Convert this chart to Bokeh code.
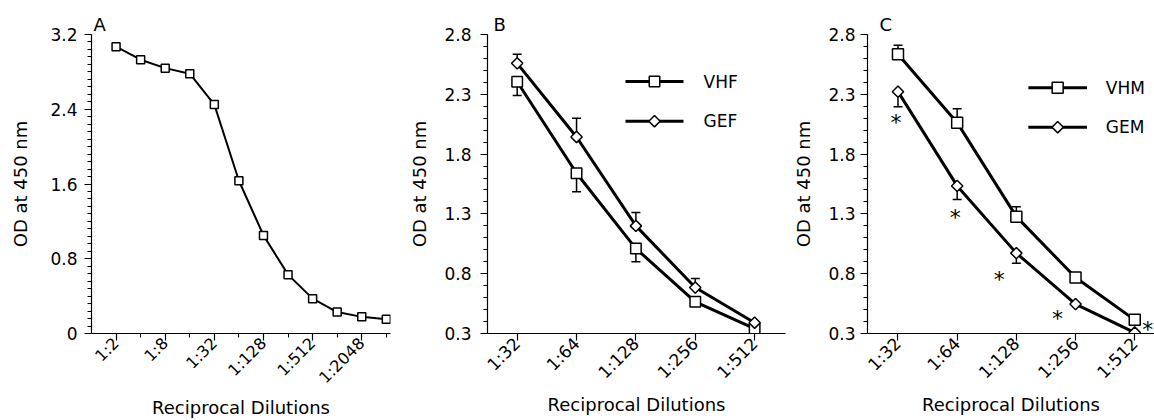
import math
from bokeh.plotting import figure
from bokeh.models import Range1d, FixedTicker, CustomJSTickFormatter, LinearScale
from bokeh.layouts import row
from bokeh.embed import file_html
from bokeh.resources import INLINE
from bokeh.core.properties import value

FONT = "DejaVu Sans"

# ---------------- data ----------------
A_DILUTIONS = [2, 4, 8, 16, 32, 64, 128, 256, 512, 1024, 2048, 4096]
A_OD = [3.07, 2.93, 2.84, 2.78, 2.45, 1.635, 1.05, 0.63, 0.373, 0.23, 0.178, 0.153]
A_XTICKS = [2, 8, 32, 128, 512, 2048]
A_XMINOR = [4, 16, 64, 256, 1024, 4096]
A_YTICKS = [0, 0.8, 1.6, 2.4, 3.2]

BC_DILUTIONS = [32, 64, 128, 256, 512]
BC_YTICKS = [0.3, 0.8, 1.3, 1.8, 2.3, 2.8]

B_VHF = [2.405, 1.64, 1.01, 0.565, 0.34]
B_VHF_ERR = [0.115, 0.154, 0.11, 0.02, 0.0]   # drawn downward
B_GEF = [2.559, 1.943, 1.20, 0.684, 0.39]
B_GEF_ERR = [0.075, 0.157, 0.111, 0.076, 0.0]  # drawn upward

C_VHM = [2.634, 2.063, 1.277, 0.768, 0.414]
C_VHM_ERR = [0.076, 0.117, 0.083, 0.0, 0.0]    # drawn upward
C_GEM = [2.322, 1.534, 0.972, 0.546, 0.308]
C_GEM_ERR = [0.126, 0.114, 0.084, 0.0, 0.0]    # drawn downward
C_STAR_OD = [2.105, 1.308, 0.796, 0.47, 0.373]

B_LEGEND = ["VHF", "GEF"]
C_LEGEND = ["VHM", "GEM"]

X_LABEL = "Reciprocal Dilutions"
Y_LABEL = "OD at 450 nm"

# ---------------- styling helpers ----------------
STAR_DX = [-2, -2, -17, -18, 13]   # screen offsets of significance marks
FRAME_TOP = 34
FIG_H = 420


def make_fig(width, left, right, x_range, y_range, title):
    return figure(width=width, height=FIG_H, x_axis_type="log", x_range=x_range, y_range=y_range,
                  output_backend="svg", toolbar_location=None,
                  min_border_left=left, min_border_right=right,
                  min_border_top=FRAME_TOP, min_border_bottom=87, title=title)


def style(p, title_offset, y_label_standoff, y_major_standoff, x_label_standoff, x_tick_size):
    p.grid.visible = False
    p.outline_line_color = None
    p.background_fill_color = "white"
    p.border_fill_color = "white"
    p.title.text_font = FONT
    p.title.text_font_size = "18px"
    p.title.text_font_style = "normal"
    p.title.text_color = "black"
    p.title.align = "left"
    p.title.offset = title_offset
    p.title.standoff = 0
    xa = p.xaxis[0]
    ya = p.yaxis[0]
    for ax in (xa, ya):
        ax.axis_line_color = "black"
        ax.axis_line_width = 1.2
        ax.major_tick_line_color = "black"
        ax.minor_tick_line_color = "black"
        ax.major_tick_line_width = 1.2
        ax.minor_tick_line_width = 1
        ax.major_tick_in = 0
        ax.major_tick_out = 7
        ax.minor_tick_in = 0
        ax.minor_tick_out = 4
        ax.major_label_text_font = FONT
        ax.major_label_text_color = "black"
        ax.axis_label_text_font = FONT
        ax.axis_label_text_font_style = "normal"
        ax.axis_label_text_font_size = "18px"
        ax.axis_label_text_color = "black"
    xa.axis_label = X_LABEL
    ya.axis_label = Y_LABEL
    xa.major_label_orientation = math.pi / 4
    xa.major_label_text_font_size = x_tick_size
    ya.major_label_text_font_size = "17px"
    xa.major_label_standoff = 0
    xa.axis_label_standoff = x_label_standoff
    ya.major_label_standoff = y_major_standoff
    ya.axis_label_standoff = y_label_standoff
    xa.formatter = CustomJSTickFormatter(code="return '1:' + Math.round(tick);")
    ya.formatter = CustomJSTickFormatter(code="return Math.abs(tick) < 1e-9 ? '0' : tick.toFixed(1);")


def err_bars(p, xs, ys, errs, sign, cap=9):
    ends = [y + sign * e for y, e in zip(ys, errs)]
    p.segment(x0=xs, y0=ys, x1=xs, y1=ends, line_color="black", line_width=1.5)
    p.scatter(x=xs, y=ends, marker="dash", size=cap, line_color="black", line_width=1.5)


def legend(p, frame_w, frame_h, labels, x0, x1, label_x, rows, sizes, angles):
    # key drawn in pixel coordinates inside the frame (y measured from the frame top)
    p.extra_x_ranges = {"px": Range1d(0, frame_w)}
    p.extra_y_ranges = {"py": Range1d(frame_h, 0)}
    p.extra_x_scales = {"px": LinearScale()}
    p.extra_y_scales = {"py": LinearScale()}
    kw = dict(x_range_name="px", y_range_name="py")
    for lab, yy, sz, ang in zip(labels, rows, sizes, angles):
        p.segment(x0=[x0], y0=[yy], x1=[x1], y1=[yy], line_color="black", line_width=3, **kw)
        p.scatter(x=[(x0 + x1) / 2], y=[yy], marker="square", size=sz, angle=ang,
                  fill_color="white", line_color="black", line_width=1.5, **kw)
    p.text(x=[label_x] * len(labels), y=rows, text=labels, text_font=value(FONT),
           text_font_size="17px", text_align="left", text_baseline="middle",
           text_color="black", **kw)


# ---------------- panel A ----------------
pa = make_fig(402, 91, 12, Range1d(1, 4096 * 2 ** 0.17), Range1d(0, 3.2), "A")
style(pa, 2, 16, 7, 0, "16px")
pa.xaxis.ticker = FixedTicker(ticks=A_XTICKS, minor_ticks=A_XMINOR)
pa.yaxis.ticker = FixedTicker(ticks=A_YTICKS, minor_ticks=[round(i * 0.08, 2) for i in range(41)])
pa.line(A_DILUTIONS, A_OD, line_color="black", line_width=2)
pa.scatter(A_DILUTIONS, A_OD, marker="square", size=8, fill_color="white",
           line_color="black", line_width=1.5)

# ---------------- panel B ----------------
pb = make_fig(388, 85, 5, Range1d(32 * 2 ** -0.5, 32 * 2 ** 4.52), Range1d(0.3, 2.8), "B")
style(pb, 6, 11, 9, 2, "17px")
pb.xaxis.ticker = FixedTicker(ticks=BC_DILUTIONS, minor_ticks=[])
pb.yaxis.ticker = FixedTicker(ticks=BC_YTICKS, minor_ticks=[round(0.3 + 0.1 * i, 2) for i in range(26)])
err_bars(pb, BC_DILUTIONS, B_VHF, B_VHF_ERR, -1)
err_bars(pb, BC_DILUTIONS, B_GEF, B_GEF_ERR, +1)
pb.line(BC_DILUTIONS, B_VHF, line_color="black", line_width=3)
pb.line(BC_DILUTIONS, B_GEF, line_color="black", line_width=3)
pb.scatter(BC_DILUTIONS, B_VHF, marker="square", size=10.5, fill_color="white",
           line_color="black", line_width=1.5)
pb.scatter(BC_DILUTIONS, B_GEF, marker="square", angle=math.pi / 4, size=8, fill_color="white",
           line_color="black", line_width=1.5)
legend(pb, 298, 299, B_LEGEND, 138, 196, 216, [47, 86.7], [10.5, 8], [0, math.pi / 4])

# ---------------- panel C ----------------
pc = make_fig(364, 75, 0, Range1d(32 * 2 ** -0.515, 32 * 2 ** 4.334), Range1d(0.3, 2.8), "C")
style(pc, 12, 11, 5, 2, "17px")
pc.xaxis.ticker = FixedTicker(ticks=BC_DILUTIONS, minor_ticks=[])
pc.yaxis.ticker = FixedTicker(ticks=BC_YTICKS, minor_ticks=[round(0.3 + 0.1 * i, 2) for i in range(26)])
err_bars(pc, BC_DILUTIONS, C_VHM, C_VHM_ERR, +1)
err_bars(pc, BC_DILUTIONS, C_GEM, C_GEM_ERR, -1)
pc.line(BC_DILUTIONS, C_VHM, line_color="black", line_width=3)
pc.line(BC_DILUTIONS, C_GEM, line_color="black", line_width=3)
pc.scatter(BC_DILUTIONS, C_VHM, marker="square", size=11, fill_color="white",
           line_color="black", line_width=1.5)
pc.scatter(BC_DILUTIONS, C_GEM, marker="square", angle=math.pi / 4, size=8, fill_color="white",
           line_color="black", line_width=1.5)
pc.text(x=BC_DILUTIONS, y=C_STAR_OD, text=["*"] * len(C_STAR_OD), x_offset=STAR_DX, y_offset=5,
        text_font=value(FONT), text_font_size="22px", text_align="center",
        text_baseline="middle", text_color="black")
legend(pc, 289, 299, C_LEGEND, 162, 221, 240, [53.3, 92.7], [11, 8], [0, math.pi / 4])

layout = row(pa, pb, pc)
open("out.html", "w").write(file_html(layout, INLINE))
